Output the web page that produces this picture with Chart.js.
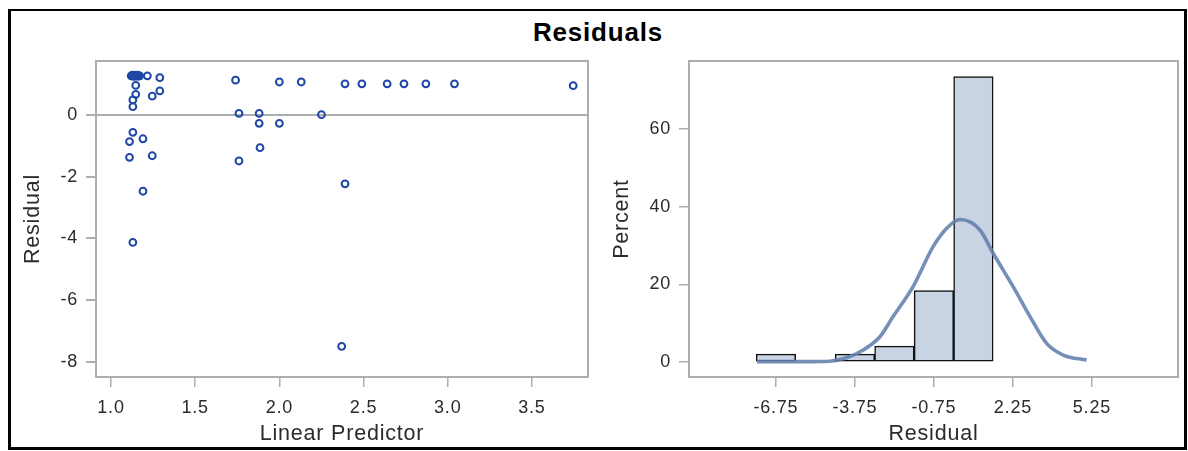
<!DOCTYPE html>
<html>
<head>
<meta charset="utf-8">
<script src="https://cdn.jsdelivr.net/npm/chart.js@4.4.1/dist/chart.umd.min.js"></script>
<style>
  html, body { margin: 0; padding: 0; background: #fff; }
  body { width: 1188px; height: 451px; position: relative; overflow: hidden; }
  #frame { position: absolute; left: 8px; top: 9px; width: 1179px; height: 441px; box-sizing: border-box;
           border: 3px solid #000; border-top-width: 2px; }
  #title { position: absolute; left: 0; width: 1196px; top: 17px; text-align: center; letter-spacing: 0.8px;
           font: bold 26px "Liberation Sans", Arial, sans-serif; color: #000; }
  canvas { position: absolute; }
  #fitCanvas { left: 12px; top: 50px; }
  #distCanvas { left: 600px; top: 50px; }
</style>
</head>
<body>
<div id="frame"></div>
<div id="title">Residuals</div>
<canvas id="fitCanvas" width="585" height="397"></canvas>
<canvas id="distCanvas" width="584" height="397"></canvas>
<script>
// Residual vs. linear predictor
const linearPredictor = [
  1.12, 1.125, 1.13, 1.13, 1.135, 1.14, 1.14, 1.145, 1.15, 1.15, 1.155, 1.16, 1.16, 1.165, 1.17,
  1.216, 1.29, 1.147, 1.147, 1.13, 1.13, 1.245, 1.29,
  1.74, 2.0, 2.13, 2.39, 2.49, 2.64, 2.74, 2.87, 3.04, 3.745,
  1.76, 1.88, 2.25,
  1.88, 2.0, 1.13, 1.11, 1.19, 1.11, 1.245, 1.885, 1.76, 1.19, 2.39, 1.13, 2.37
];
const residual = [
  1.27, 1.28, 1.26, 1.29, 1.27, 1.28, 1.26, 1.27, 1.29, 1.27, 1.28, 1.26, 1.28, 1.27, 1.27,
  1.27, 1.21, 0.96, 0.67, 0.49, 0.27, 0.61, 0.78,
  1.13, 1.07, 1.07, 1.01, 1.01, 1.01, 1.01, 1.01, 1.01, 0.95,
  0.05, 0.05, 0.01,
  -0.27, -0.27, -0.56, -0.86, -0.77, -1.37, -1.32, -1.06, -1.49, -2.47, -2.23, -4.13, -7.5
];
const predictorTicks = [1.0, 1.5, 2.0, 2.5, 3.0, 3.5];
const residualTicks = [-8, -6, -4, -2, 0];

// Histogram of residuals (bin midpoints, percent of observations)
const binMidpoints = [-6.75, -3.75, -2.25, -0.75, 0.75];
const binPercent = [2.04, 2.04, 4.08, 18.37, 73.47];
const binTicks = [-6.75, -3.75, -0.75, 2.25, 5.25];
const percentTicks = [0, 20, 40, 60];

// Normal density overlay, in percent
const normalX = [-7.47, -6.6, -5.5, -4.7, -4.07, -3.43, -2.8, -2.3, -1.54, -0.78, -0.27, 0.24, 1.0, 1.5, 2.26, 2.9, 3.53, 4.16, 5.05];
const normalPct = [0.1, 0.1, 0.1, 0.2, 1.1, 3.1, 6.5, 11.7, 19.4, 29.7, 34.4, 36.7, 34.0, 28.0, 19.4, 11.7, 4.8, 1.8, 0.5];

const FONT = '"Liberation Sans", Arial, sans-serif';
const AXIS_GREY = '#aaaeb1';
const TEXT = '#2b2b2b';
const TICK_FONT = { family: FONT, size: 18 };
const TITLE_FONT = { family: FONT, size: 21.5 };

// Box around the plot area, plus slightly wider text spacing
const wallFrame = {
  id: 'wallFrame',
  beforeDraw(chart) {
    chart.ctx.letterSpacing = '0.8px';
  },
  afterDraw(chart) {
    const a = chart.chartArea, c = chart.ctx;
    c.save();
    c.strokeStyle = AXIS_GREY;
    c.lineWidth = 2;
    c.strokeRect(a.left, a.top, a.right - a.left, a.bottom - a.top);
    c.restore();
  }
};

function fixedTicks(list) {
  return scale => { scale.ticks = list.map(v => ({ value: v })); };
}

function xFit(h) {
  return s => { s.height = h; s.paddingLeft = 0; s.paddingRight = 0; };
}
function yFit(w) {
  return s => { s.width = w; s.paddingTop = 0; s.paddingBottom = 0; };
}

function axis(opts) {
  return Object.assign({
    type: 'linear',
    border: { display: false },
    grid: { drawOnChartArea: false, offset: false, color: AXIS_GREY, tickColor: AXIS_GREY, tickLength: 10, lineWidth: 1.5 },
    ticks: { color: TEXT, font: TICK_FONT, padding: 8 },
    title: { display: true, color: TEXT, font: TITLE_FONT, padding: 0 }
  }, opts);
}

new Chart(document.getElementById('fitCanvas'), {
  type: 'scatter',
  data: {
    datasets: [{
      data: linearPredictor.map((x, i) => ({ x, y: residual[i] })),
      pointStyle: 'circle',
      pointRadius: 3.4,
      pointBorderWidth: 2,
      borderColor: '#1f47a6',
      backgroundColor: 'rgba(0,0,0,0)'
    }]
  },
  options: {
    responsive: false, animation: false, devicePixelRatio: 1,
    layout: { padding: { top: 11, right: 9, left: 0, bottom: 0 } },
    plugins: { legend: { display: false }, tooltip: { enabled: false } },
    scales: {
      x: axis({
        min: 0.911, max: 3.833,
        afterBuildTicks: fixedTicks(predictorTicks),
        afterFit: xFit(70),
        ticks: { color: TEXT, font: TICK_FONT, padding: 10, callback: v => v.toFixed(1) },
        title: { display: true, text: 'Linear Predictor', color: TEXT, font: TITLE_FONT, padding: 0 }
      }),
      y: axis({
        min: -8.49, max: 1.75,
        afterBuildTicks: fixedTicks(residualTicks),
        afterFit: yFit(84),
        grid: {
          drawOnChartArea: true,
          color: c => (c.tick && c.tick.value === 0 ? AXIS_GREY : 'rgba(0,0,0,0)'),
          tickColor: AXIS_GREY, tickLength: 10, lineWidth: 2
        },
        title: { display: true, text: 'Residual', color: TEXT, font: TITLE_FONT, padding: { top: 8, bottom: 0 } }
      })
    }
  },
  plugins: [wallFrame]
});

new Chart(document.getElementById('distCanvas'), {
  type: 'bar',
  data: {
    datasets: [
      {
        type: 'line',
        data: normalX.map((x, i) => ({ x, y: normalPct[i] })),
        borderColor: 'rgba(98,128,172,0.88)',
        borderWidth: 3.6,
        pointRadius: 0,
        tension: 0.4,
        cubicInterpolationMode: 'monotone',
        fill: false,
        order: 0
      },
      {
        type: 'bar',
        data: binMidpoints.map((x, i) => ({ x, y: binPercent[i] })),
        backgroundColor: '#c8d4e4',
        borderColor: '#111',
        borderWidth: 1.5,
        borderSkipped: false,
        barPercentage: 1,
        categoryPercentage: 1,
        order: 1
      }
    ]
  },
  options: {
    responsive: false, animation: false, devicePixelRatio: 1,
    layout: { padding: { top: 11, right: 6, left: 0, bottom: 0 } },
    plugins: { legend: { display: false }, tooltip: { enabled: false } },
    scales: {
      x: axis({
        min: -10.05, max: 8.52,
        offset: false,
        afterBuildTicks: fixedTicks(binTicks),
        afterFit: xFit(70),
        ticks: { color: TEXT, font: TICK_FONT, padding: 10, callback: v => v.toFixed(2) },
        title: { display: true, text: 'Residual', color: TEXT, font: TITLE_FONT, padding: 0 }
      }),
      y: axis({
        min: -3.86, max: 77.5,
        afterBuildTicks: fixedTicks(percentTicks),
        afterFit: yFit(89),
        title: { display: true, text: 'Percent', color: TEXT, font: TITLE_FONT, padding: { top: 9, bottom: 0 } }
      })
    }
  },
  plugins: [wallFrame]
});
</script>
</body>
</html>
